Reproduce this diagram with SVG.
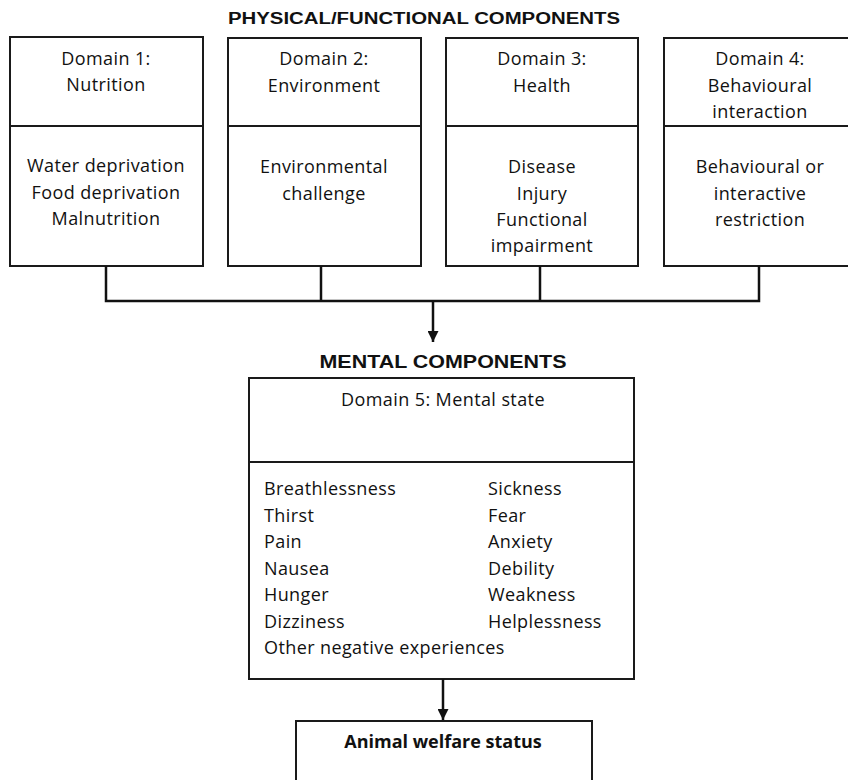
<svg xmlns="http://www.w3.org/2000/svg" width="848" height="780" viewBox="0 0 848 780">
<defs>
<marker id="ah" viewBox="0 0 10 10" refX="10" refY="5" markerWidth="11" markerHeight="11" markerUnits="userSpaceOnUse" orient="auto">
<path d="M0,0 L10,5 L0,10 Z" fill="#111"/>
</marker>
<style>
.box{fill:#fff;stroke:#1a1a1a;stroke-width:2}
.div{stroke:#1a1a1a;stroke-width:2}
.t{font-family:"Open Sans","Liberation Sans",sans-serif;font-size:18px;fill:#111;letter-spacing:0.4px}
.c{text-anchor:middle}
.h{font-family:"Liberation Sans",Arial,sans-serif;font-weight:bold;fill:#111;text-anchor:middle}
.b{font-family:"Open Sans","Liberation Sans",sans-serif;font-weight:bold;font-size:18px;fill:#111;text-anchor:middle}
.con{fill:none;stroke:#111;stroke-width:2.5}
</style>
</defs>
<rect width="848" height="780" fill="#fff"/>
<text class="h" x="424" y="24" font-size="16" textLength="392" lengthAdjust="spacingAndGlyphs">PHYSICAL/FUNCTIONAL COMPONENTS</text>
<g id="d1">
<rect class="box" x="10" y="37" width="193" height="229"/>
<line class="div" x1="10" y1="126" x2="203" y2="126"/>
<text class="t c" x="106" y="65">Domain 1:</text>
<text class="t c" x="106" y="91">Nutrition</text>
<text class="t c" x="106" y="172">Water deprivation</text>
<text class="t c" x="106" y="199">Food deprivation</text>
<text class="t c" x="106" y="225">Malnutrition</text>
</g>
<g id="d2">
<rect class="box" x="228" y="38" width="193" height="228"/>
<line class="div" x1="228" y1="126" x2="421" y2="126"/>
<text class="t c" x="324" y="65">Domain 2:</text>
<text class="t c" x="324" y="92">Environment</text>
<text class="t c" x="324" y="173">Environmental</text>
<text class="t c" x="324" y="200">challenge</text>
</g>
<g id="d3">
<rect class="box" x="446" y="38" width="192" height="228"/>
<line class="div" x1="446" y1="126" x2="638" y2="126"/>
<text class="t c" x="542" y="65">Domain 3:</text>
<text class="t c" x="542" y="92">Health</text>
<text class="t c" x="542" y="173">Disease</text>
<text class="t c" x="542" y="200">Injury</text>
<text class="t c" x="542" y="226">Functional</text>
<text class="t c" x="542" y="252">impairment</text>
</g>
<g id="d4">
<rect class="box" x="664" y="38" width="194" height="228"/>
<line class="div" x1="664" y1="126" x2="858" y2="126"/>
<text class="t c" x="760" y="65">Domain 4:</text>
<text class="t c" x="760" y="92">Behavioural</text>
<text class="t c" x="760" y="118">interaction</text>
<text class="t c" x="760" y="173">Behavioural or</text>
<text class="t c" x="760" y="200">interactive</text>
<text class="t c" x="760" y="226">restriction</text>
</g>
<text class="h" x="443" y="368" font-size="19" textLength="247" lengthAdjust="spacingAndGlyphs">MENTAL COMPONENTS</text>
<g id="d5">
<rect class="box" x="249" y="378" width="385" height="301"/>
<line class="div" x1="249" y1="462" x2="634" y2="462"/>
<text class="t c" x="443" y="406">Domain 5: Mental state</text>
<text class="t" x="264" y="495">Breathlessness</text>
<text class="t" x="264" y="522">Thirst</text>
<text class="t" x="264" y="548">Pain</text>
<text class="t" x="264" y="575">Nausea</text>
<text class="t" x="264" y="601">Hunger</text>
<text class="t" x="264" y="628">Dizziness</text>
<text class="t" x="264" y="654">Other negative experiences</text>
<text class="t" x="488" y="495">Sickness</text>
<text class="t" x="488" y="522">Fear</text>
<text class="t" x="488" y="548">Anxiety</text>
<text class="t" x="488" y="575">Debility</text>
<text class="t" x="488" y="601">Weakness</text>
<text class="t" x="488" y="628">Helplessness</text>
</g>
<g id="aws">
<rect class="box" x="296" y="721" width="296" height="80"/>
<text class="b" x="443" y="748">Animal welfare status</text>
</g>
<g id="connectors">
<path class="con" d="M106,266 V301 H759 V266"/>
<path class="con" d="M321,266 V301"/>
<path class="con" d="M540,266 V301"/>
<path class="con" d="M433,301 V342" marker-end="url(#ah)"/>
<path class="con" d="M443,679 V720" marker-end="url(#ah)"/>
</g>
</svg>
